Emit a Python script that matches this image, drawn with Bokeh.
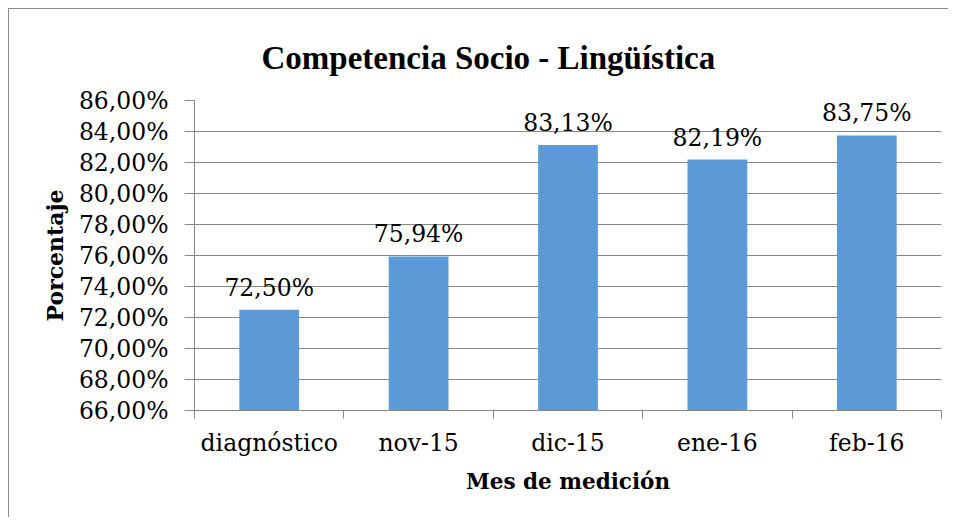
from bokeh.plotting import figure
from bokeh.models import Range1d, FixedTicker, ColumnDataSource
from bokeh.core.properties import value
from bokeh.embed import file_html
from bokeh.resources import INLINE

categories = ["diagnóstico", "nov-15", "dic-15", "ene-16", "feb-16"]
values = [72.50, 75.94, 83.13, 82.19, 83.75]
y_ticks = [66, 68, 70, 72, 74, 76, 78, 80, 82, 84, 86]
y_tick_labels = ["66,00%", "68,00%", "70,00%", "72,00%", "74,00%", "76,00%",
                 "78,00%", "80,00%", "82,00%", "84,00%", "86,00%"]
title_text = "Competencia Socio - Lingüística"
x_title = "Mes de medición"
y_title = "Porcentaje"

SERIF = "DejaVu Serif"
GRAY = "#888888"

n = len(categories)
xs = list(range(n))
labels = [f"{v:.2f}".replace(".", ",") + "%" for v in values]

src = ColumnDataSource(dict(x=xs, top=values, label=labels))

p = figure(width=940, height=509, output_backend="svg", toolbar_location=None,
           x_range=Range1d(-0.5, n - 0.5), y_range=Range1d(y_ticks[0], y_ticks[-1]),
           min_border_left=185, min_border_right=8, min_border_top=91, min_border_bottom=108,
           title=title_text)
p.margin = (8, 0, 0, 8)
p.styles = {"border-left": "1px solid #8a8a8a", "border-top": "1px solid #8a8a8a"}
p.background_fill_color = "white"
p.border_fill_color = "white"
p.outline_line_color = None

p.title.align = "left"
p.title.offset = 67
p.title.text_font = "Liberation Serif"
p.title.text_font_style = "bold"
p.title.text_font_size = "33px"
p.title.text_color = "black"
p.title.vertical_align = "bottom"
p.title.standoff = 50

p.vbar(x="x", top="top", bottom=y_ticks[0], width=0.4, source=src,
       fill_color="#5b9ad6", line_color=None)

p.text(x="x", y="top", text="label", source=src, text_align="center",
       text_baseline="alphabetic", y_offset=-22, text_font=value(SERIF),
       text_font_size="23.5px", text_color="black")

# x axis
xa = p.xaxis[0]
xa.ticker = FixedTicker(ticks=xs, minor_ticks=[i - 0.5 for i in range(n + 1)])
xa.major_label_overrides = {i: c for i, c in enumerate(categories)}
xa.major_tick_line_color = None
xa.minor_tick_line_color = GRAY
xa.minor_tick_out = 8
xa.minor_tick_in = 0
xa.axis_line_color = GRAY
xa.major_label_text_font = SERIF
xa.major_label_text_font_size = "23.5px"
xa.major_label_text_color = "black"
xa.major_label_standoff = 10
xa.axis_label = x_title
xa.axis_label_text_font = SERIF
xa.axis_label_text_font_style = "bold"
xa.axis_label_text_font_size = "21.5px"
xa.axis_label_text_color = "black"
xa.axis_label_standoff = 9

# y axis
ya = p.yaxis[0]
ya.ticker = FixedTicker(ticks=y_ticks)
ya.major_label_overrides = {t: l for t, l in zip(y_ticks, y_tick_labels)}
ya.major_tick_line_color = GRAY
ya.major_tick_out = 10
ya.major_tick_in = 0
ya.minor_tick_line_color = None
ya.axis_line_color = GRAY
ya.major_label_text_font = SERIF
ya.major_label_text_font_size = "23.5px"
ya.major_label_text_color = "black"
ya.major_label_standoff = 16
ya.axis_label = y_title
ya.axis_label_text_font = SERIF
ya.axis_label_text_font_style = "bold"
ya.axis_label_text_font_size = "22px"
ya.axis_label_text_color = "black"
ya.axis_label_standoff = 8

p.xgrid.grid_line_color = None
p.ygrid.grid_line_color = GRAY
p.ygrid.grid_line_width = 1

open("out.html", "w").write(file_html(p, INLINE))
